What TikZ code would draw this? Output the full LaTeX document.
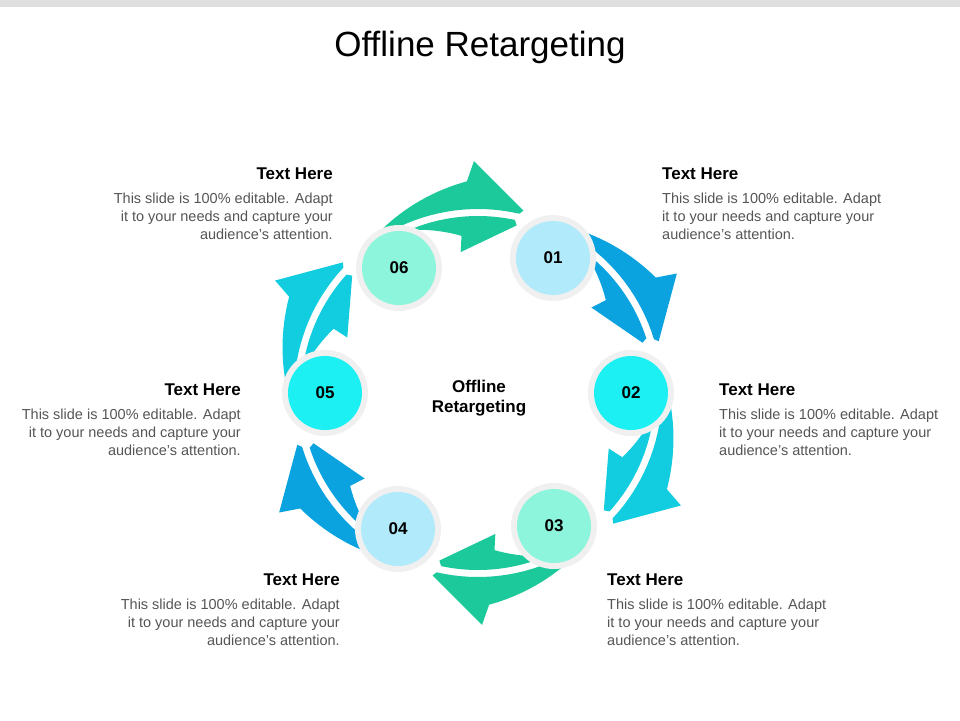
\documentclass[tikz,border=0pt]{standalone}
\usepackage{fontspec}
\setmainfont{Liberation Sans}
\usetikzlibrary{positioning}
\definecolor{arrgreen}{HTML}{1CC99B}
\definecolor{arrblue}{HTML}{0AA3DF}
\definecolor{arrcyan}{HTML}{12CDE0}
\definecolor{fillblue}{HTML}{B0EAFB}
\definecolor{fillcyan}{HTML}{1CF0F2}
\definecolor{fillmint}{HTML}{8CF5DB}
\definecolor{bodygray}{HTML}{555555}
\tikzset{
  ring/.style = {circle, fill=gray!12, minimum size=86pt, inner sep=0pt},
  num/.style = {circle, minimum size=74pt, inner sep=0pt, font=\fontsize{17}{20}\selectfont\bfseries},
  head/.style = {font=\fontsize{17}{20}\selectfont\bfseries, inner sep=0pt},
  body/.style = {font=\fontsize{14.5}{18}\selectfont, text=bodygray, inner sep=0pt},
}
\begin{document}
\begin{tikzpicture}[x=1pt, y=-1pt]
    \useasboundingbox (0,0) rectangle (960,720);
    \fill[gray!25] (0,0) rectangle (960,7);
    \node[font=\fontsize{35}{40}\selectfont] (title) at (480,47) {Offline Retargeting};

    % curved double arrows, one pair per step
    \foreach \k/\col in {0/arrgreen, 1/arrblue, 2/arrcyan, 3/arrgreen, 4/arrblue, 5/arrcyan} {
      \begin{scope}[shift={(478,393)}, rotate=-60*\k]
        \fill[\col] plot[domain=-125:-93, samples=20] (\x:{186+26*(\x+125)/32})
          -- (-91:232) -- (-76:188)
          -- plot[domain=-77:-125, samples=20] (\x:184) -- cycle;
        \fill[\col] plot[domain=-112:-78, samples=20] (\x:177)
          -- (-77:172) -- (-97:142) -- (-96:158)
          -- plot[domain=-96:-112, samples=10] (\x:{158+18*(-96-\x)/16}) -- cycle;
      \end{scope}
    }

    % step circles
    \foreach \name/\pos/\fillc in {01/{553,258}/fillblue, 02/{631,393}/fillcyan, 03/{554,526}/fillmint,
                                   04/{398,529}/fillblue, 05/{325,393}/fillcyan, 06/{399,268}/fillmint} {
      \node[ring] (ring\name) at (\pos) {};
      \node[num, fill=\fillc] (step\name) at (\pos) {\name};
    }

    \node[head, align=center] (center) at (479,398) {Offline\\Retargeting};

    % text blocks
    \node[head, anchor=base east] (head06) at (333,179) {Text Here};
    \node[body, below=13pt of head06.south east, anchor=north east, align=right] (body06) {This slide is 100\% editable. Adapt\\it to your needs and capture your\\audience's attention.};
    \node[head, anchor=base west] (head01) at (662,179) {Text Here};
    \node[body, below=13pt of head01.south west, anchor=north west, align=left] (body01) {This slide is 100\% editable. Adapt\\it to your needs and capture your\\audience's attention.};
    \node[head, anchor=base west] (head02) at (719,395) {Text Here};
    \node[body, below=13pt of head02.south west, anchor=north west, align=left] (body02) {This slide is 100\% editable. Adapt\\it to your needs and capture your\\audience's attention.};
    \node[head, anchor=base east] (head05) at (241,395) {Text Here};
    \node[body, below=13pt of head05.south east, anchor=north east, align=right] (body05) {This slide is 100\% editable. Adapt\\it to your needs and capture your\\audience's attention.};
    \node[head, anchor=base west] (head03) at (607,585) {Text Here};
    \node[body, below=13pt of head03.south west, anchor=north west, align=left] (body03) {This slide is 100\% editable. Adapt\\it to your needs and capture your\\audience's attention.};
    \node[head, anchor=base east] (head04) at (340,585) {Text Here};
    \node[body, below=13pt of head04.south east, anchor=north east, align=right] (body04) {This slide is 100\% editable. Adapt\\it to your needs and capture your\\audience's attention.};
\end{tikzpicture}
\end{document}
